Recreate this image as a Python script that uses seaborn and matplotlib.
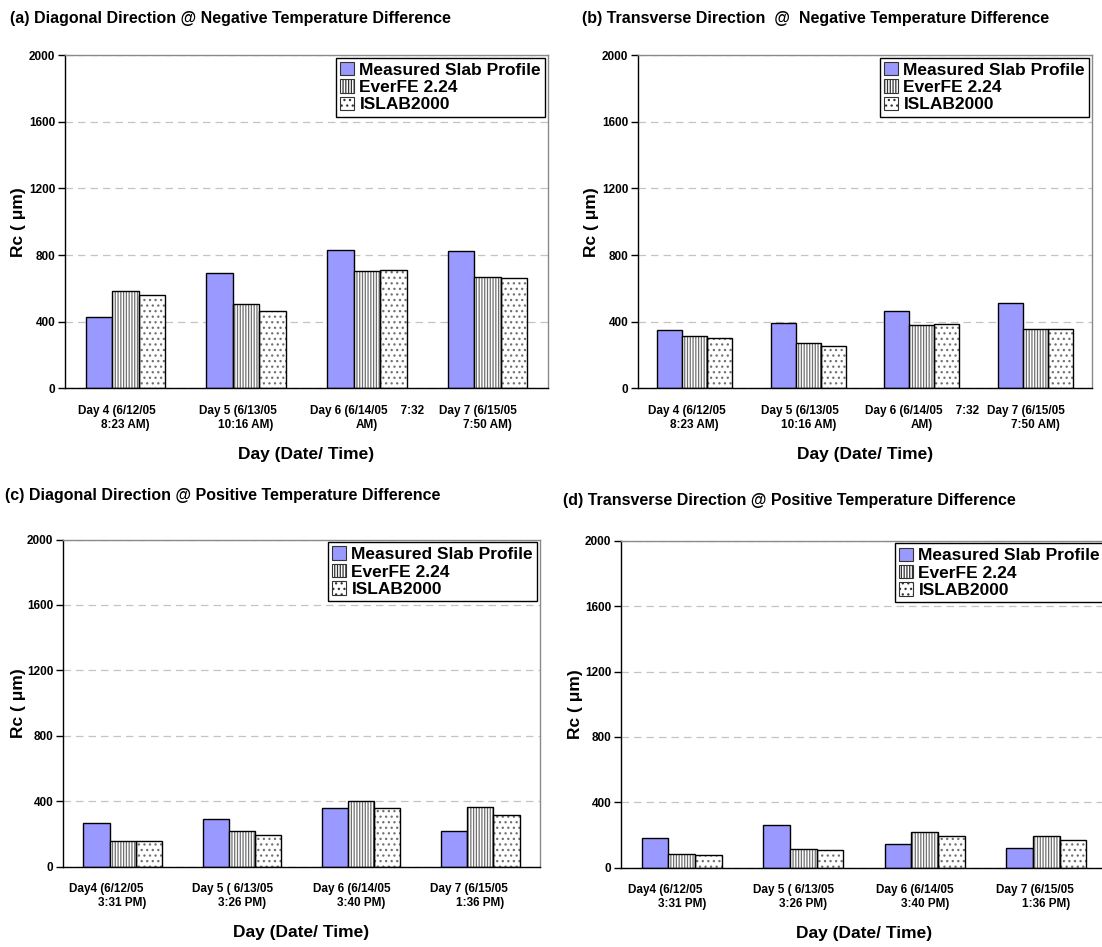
import numpy as np
import pandas as pd
import seaborn as sns
import matplotlib
matplotlib.use("Agg")
import matplotlib.pyplot as plt
from matplotlib import font_manager
from matplotlib.patches import Patch, Rectangle

# ---------------- data ----------------
models = ["Measured Slab Profile", "EverFE 2.24", "ISLAB2000"]

morning_days = ["Day 4 (6/12/05     \n8:23 AM)",
                "Day 5 (6/13/05     \n10:16 AM)",
                "Day 6 (6/14/05    7:32\nAM)",
                "Day 7 (6/15/05      \n7:50 AM)"]
afternoon_days = ["Day4 (6/12/05          \n3:31 PM)",
                  "Day 5 ( 6/13/05      \n3:26 PM)",
                  "Day 6 (6/14/05      \n3:40 PM)",
                  "Day 7 (6/15/05       \n1:36 PM)"]

diag_neg_measured = [426, 690, 828, 823]
diag_neg_everfe = [584, 504, 705, 666]
diag_neg_islab = [561, 465, 708, 660]

trans_neg_measured = [350, 390, 466, 510]
trans_neg_everfe = [314, 272, 382, 358]
trans_neg_islab = [304, 254, 384, 358]

diag_pos_measured = [267, 294, 357, 220]
diag_pos_everfe = [157, 220, 404, 363]
diag_pos_islab = [155, 196, 359, 316]

trans_pos_measured = [183, 263, 145, 120]
trans_pos_everfe = [82, 116, 218, 194]
trans_pos_islab = [80, 106, 192, 169]

titles = ["(a) Diagonal Direction @ Negative Temperature Difference",
          "(b) Transverse Direction  @  Negative Temperature Difference",
          "(c) Diagonal Direction @ Positive Temperature Difference",
          "(d) Transverse Direction @ Positive Temperature Difference"]

y_ticks = [0, 400, 800, 1200, 1600, 2000]
y_label = "Rc ( \u03bcm)"
x_label = "Day (Date/ Time)"

# ---------------- style ----------------
sns.set_style("white")
names = {f.name for f in font_manager.fontManager.ttflist}
base_font = "Liberation Sans Narrow" if "Liberation Sans Narrow" in names else "Liberation Sans"
plt.rcParams["font.family"] = [base_font, "DejaVu Sans"]
plt.rcParams["hatch.linewidth"] = 0.9
for key in ("text.color", "axes.labelcolor", "xtick.color", "ytick.color"):
    plt.rcParams[key] = "black"

W, H = 1102, 947
fig = plt.figure(figsize=(W / 100, H / 100), dpi=100)
fig.patch.set_facecolor("white")

fills = ["#9999FF", "white", "white"]
hatches = [None, "||||||", "..."]
hatch_grey = "#707070"


def px_rect(left, top, right, bottom):
    return [left / W, 1 - bottom / H, (right - left) / W, (bottom - top) / H]


def draw_panel(rect, title, title_xy, days, measured, everfe, islab, ylabel_x):
    ax = fig.add_axes(px_rect(*rect))
    left, top, right, bottom = rect
    df = pd.DataFrame({
        "day": days * 3,
        "model": np.repeat(models, len(days)),
        "rc": measured + everfe + islab,
    })
    sns.barplot(data=df, x="day", y="rc", hue="model", order=days,
                hue_order=models, palette=fills, saturation=1, width=0.66,
                gap=0, errorbar=None, legend=False, ax=ax,
                edgecolor="black", linewidth=1.0)

    # hatch patterns in grey with a crisp black outline on top
    for cont, hatch in zip(ax.containers, hatches):
        for p in cont.patches:
            if hatch is None:
                continue
            p.set_hatch(hatch)
            p.set_edgecolor(hatch_grey)
            p.set_linewidth(0)
            ax.add_patch(Rectangle(p.get_xy(), p.get_width(), p.get_height(),
                                   fill=False, edgecolor="black", linewidth=1.0,
                                   zorder=p.get_zorder() + 0.1))

    ax.set_xlim(-0.5, len(days) - 0.5)
    ax.set_ylim(0, 2000)
    ax.set_yticks(y_ticks)
    ax.set_yticklabels([str(v) for v in y_ticks], fontsize=8.5, fontweight="bold")

    ax.set_xticks(np.arange(-0.5, len(days)), labels=[""] * (len(days) + 1))
    ax.set_xticks(np.arange(len(days)), labels=days, minor=True)
    for lab in ax.get_xticklabels(minor=True):
        lab.set_fontsize(8.5)
        lab.set_fontweight("bold")
        lab.set_multialignment("center")
    ax.tick_params(axis="x", which="major", direction="out", length=5, width=1,
                   color="black")
    ax.tick_params(axis="x", which="minor", length=0, pad=12)
    ax.tick_params(axis="y", which="major", direction="out", length=5, width=1,
                   color="black", pad=2, left=True)

    ax.yaxis.grid(True, linestyle=(0, (6, 4)), color="#c4c4c4", linewidth=0.9)
    ax.set_axisbelow(True)
    for side in ("left", "bottom"):
        ax.spines[side].set_color("black")
        ax.spines[side].set_linewidth(1.0)
    for side in ("top", "right"):
        ax.spines[side].set_color("#8a8a8a")
        ax.spines[side].set_linewidth(1.0)

    ax.set_ylabel(y_label, fontsize=12.5, fontweight="bold")
    ax.yaxis.set_label_coords((ylabel_x - left) / (right - left), 0.5)
    ax.set_xlabel(x_label, fontsize=12.5, fontweight="bold")
    ax.xaxis.set_label_coords(0.5, -(58) / (bottom - top))

    handles = [Patch(facecolor=f, edgecolor="#333333", hatch=h, linewidth=0.8)
               for f, h in zip(fills, hatches)]
    leg = ax.legend(handles, models, loc="upper right", bbox_to_anchor=(1.0, 1.0),
                    borderaxespad=0.15, frameon=True, fancybox=False,
                    framealpha=1, edgecolor="black",
                    prop={"weight": "bold", "size": 12.5},
                    handlelength=0.8, handleheight=0.8, handletextpad=0.3,
                    labelspacing=0.1, borderpad=0.25)
    leg.get_frame().set_linewidth(1.0)

    fig.text(title_xy[0] / W, 1 - title_xy[1] / H, title, fontsize=11.5,
             fontweight="bold", ha="left", va="center")
    return ax


draw_panel((65, 55, 548, 388.5), titles[0], (10, 18), morning_days,
           diag_neg_measured, diag_neg_everfe, diag_neg_islab, 26)
draw_panel((638, 55, 1092, 388.5), titles[1], (582, 18), morning_days,
           trans_neg_measured, trans_neg_everfe, trans_neg_islab, 599)
draw_panel((63, 539.5, 540, 866.7), titles[2], (5, 495), afternoon_days,
           diag_pos_measured, diag_pos_everfe, diag_pos_islab, 26)
draw_panel((621, 540.7, 1107, 867.7), titles[3], (563, 500), afternoon_days,
           trans_pos_measured, trans_pos_everfe, trans_pos_islab, 583)

fig.savefig("out.png", dpi=100, facecolor="white")
